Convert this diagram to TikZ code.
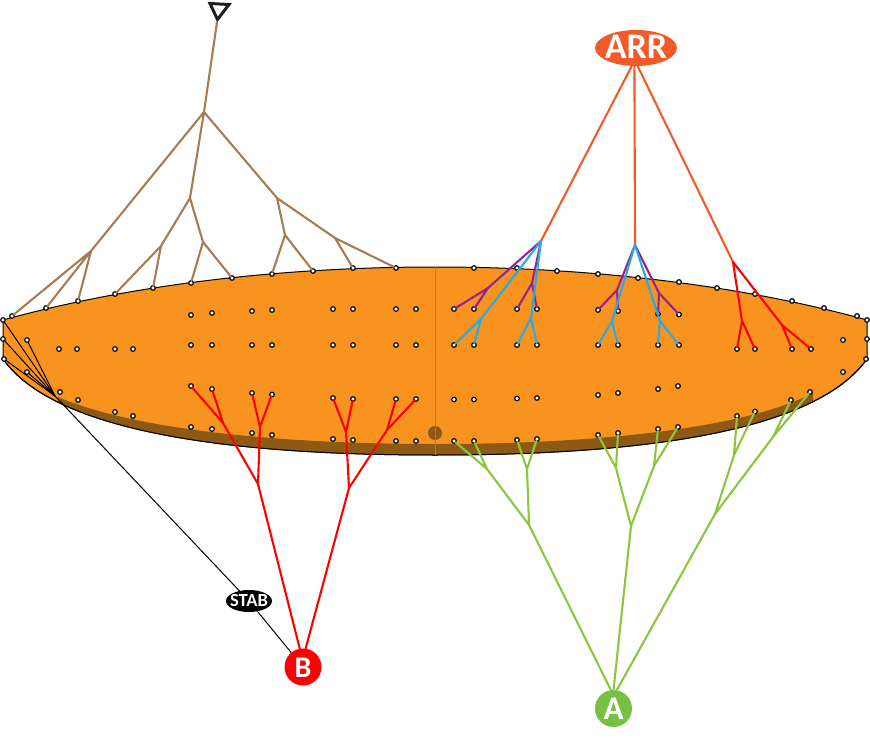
\documentclass[tikz,border=0pt]{standalone}
\usepackage{fontspec}
\setmainfont{Carlito}
\usetikzlibrary{shapes.geometric}
\definecolor{lensorange}{HTML}{F8931F}
\definecolor{rimbrown}{HTML}{8C5A14}
\definecolor{tan}{HTML}{A67C52}
\definecolor{leaf}{HTML}{8CC63F}
\definecolor{leafnode}{HTML}{76C043}
\definecolor{plum}{HTML}{93278F}
\definecolor{sky}{HTML}{29ABE2}
\definecolor{arrorange}{HTML}{F15A29}
\newcommand{\centred}[2]{\makebox[0pt]{\smash{\raisebox{#1}{#2}}}}
\tikzset{
  dot/.style={circle,draw=black,fill=white,line width=1.2pt,minimum size=4.6pt,inner sep=0pt,outer sep=0pt},
  branch/.style={line width=2.1pt,line cap=round,line join=round},
  tantree/.style={branch,color=tan},
  redtree/.style={branch,color=red},
  greentree/.style={branch,color=leaf},
  plumtree/.style={branch,color=plum},
  skytree/.style={branch,color=sky},
  arrline/.style={branch,color=arrorange},
  blackline/.style={line width=1pt,color=black},
  label/.style={text=white,inner sep=0pt,outer sep=0pt,font=\bfseries},
  hub/.style={label,circle,minimum size=37pt},
  oval/.style={label,ellipse,minimum width=#1}
}
\begin{document}
\begin{tikzpicture}[x=1pt,y=-1pt]
\useasboundingbox (0,0) rectangle (870,738);
% lens
\draw[fill=lensorange,line width=1pt]
  (3,320) .. controls (130,285) and (280,267) .. (435,267)
  .. controls (590,267) and (740,285) .. (867,320)
  -- (867,359)
  .. controls (820,425) and (670,455) .. (435,455)
  .. controls (200,455) and (50,425) .. (3,359) -- cycle;
\begin{scope}
  \clip (867,359) .. controls (820,425) and (670,455) .. (435,455)
  .. controls (200,455) and (50,425) .. (3,359) -- (3,300) -- (867,300) -- cycle;
  \fill[rimbrown] (58,397) .. controls (130,428) and (270,444) .. (435,444)
  .. controls (600,444) and (745,428) .. (813,393) -- (813,480) -- (58,480) -- cycle;
\end{scope}
\draw[line width=1pt]
  (867,359) .. controls (820,425) and (670,455) .. (435,455)
  .. controls (200,455) and (50,425) .. (3,359);
\node[circle,fill=rimbrown,minimum size=14pt,inner sep=0pt] (hole) at (435,433) {};
\coordinate (axistop) at (435,267);
\coordinate (axisbot) at (435,455);
\draw[color=arrorange,line width=1pt] (axistop) -- (axisbot);
% dots
\foreach \n/\x/\y in {
 t1/3/320,t2/12/316,t3/46/308,t4/78/301,t5/115/294,t6/153/288,t7/191/283,t8/232/278,t9/272/274,
 t10/313/271,t11/353/268,t12/396/268,t13/474/268,t14/517/268,t15/557/271,t16/598/274,t17/638/278,
 t18/679/282,t19/717/288,t20/755/294,t21/792/301,t22/824/308,t23/857/316,t24/867/320,
 l1/3/339,l2/4/359,l3/27/340,l4/27/372,r1/867/339,r2/866/359,r3/843/340,r4/843/372,
 e1/60/392,e2/78/400,e3/115/412,e4/133/416,e5/191/427,e6/212/429,e7/252/433,e8/272/435,
 e9/333/439,e10/353/440,e11/396/441,e12/416/441,
 g1/454/441,g2/474/441,g3/517/440,g4/537/439,g5/598/435,g6/618/433,g7/658/429,g8/678/427,
 g9/737/416,g10/755/411.5,g11/791/400,g12/810/392,
 m1/59/349,m2/77/349,m3/115/349,m4/133/349,
 a1/191/345,a2/212/345,a3/252/345,a4/272/345,a5/333/345,a6/353/345,a7/396/345,a8/416/345,
 b1/454/345,b2/474/345,b3/517/345,b4/537/345,b5/598/345,b6/618/345,b7/658/345,b8/679/345,
 c1/737/349,c2/755/349,c3/792/349,c4/811/349,
 u1/191/315,u2/212/313,u3/252/311,u4/272/310,u5/333/309,u6/353/309,u7/396/309,u8/416/309,
 p1/454/309,p2/474/309,p3/517/309,p4/537/309,p5/598/310,p6/618/311,p7/658/314,p8/679/314.5,
 d1/191/386,d2/212/389,d3/252/393,d4/272/394.5,d5/333/398,d6/353/399,d7/396/399,d8/416/399,
 n1/454/399.5,n2/474/399.5,n3/517/398.5,n4/537/398,n5/598/395,n6/618/393,n7/658/389,n8/678/386}
 {\node[dot] (\n) at (\x,\y) {};}
% hubs
\node[hub,fill=red] (B) at (303,667) {\centred{-10pt}{\fontsize{30}{30}\selectfont B}};
\node[hub,fill=leafnode] (A) at (613.5,708.5) {\centred{-10.5pt}{\fontsize{33}{33}\selectfont A}};
\node[oval=82pt,fill=arrorange,minimum height=36pt] (ARR) at (636,48) {\centred{-11pt}{\fontsize{36}{36}\selectfont ARR}};
\node[oval=46pt,fill=black,minimum height=22pt] (STAB) at (249,601) {\centred{-5pt}{\fontsize{18.5}{18.5}\selectfont STAB}};
% apex triangle
\coordinate (apex) at (217,22);
\draw[color=black!88,line width=3pt,line join=miter] (210,3.5) -- (229,4.5) -- (217.5,19.5) -- cycle;
% tan tree
\coordinate (k0) at (204,112);
\coordinate (k1) at (91,251);
\coordinate (k2) at (190,198);
\coordinate (k3) at (277,198);
\coordinate (k4) at (161,246);
\coordinate (k5) at (203,242);
\coordinate (k6) at (285,235);
\coordinate (k7) at (335,238);
\draw[tantree] (apex) -- (k0);
\draw[tantree] (k0) -- (k1) (k0) -- (k2) (k0) -- (k3);
\draw[tantree] (k1) -- (t2) (k1) -- (t3) (k1) -- (t4);
\draw[tantree] (k2) -- (k4) (k2) -- (k5) (k3) -- (k6) (k3) -- (k7);
\draw[tantree] (k4) -- (t5) (k4) -- (t6) (k5) -- (t7) (k5) -- (t8);
\draw[tantree] (k6) -- (t9) (k6) -- (t10) (k7) -- (t11) (k7) -- (t12);
% black fan
\coordinate (fan) at (55,396);
\foreach \s in {t1,l1,l2,l3,l4} \draw[blackline] (\s) -- (fan);
\draw[blackline] (fan) -- (STAB);
\draw[blackline] (STAB) -- (B);
% red tree B
\coordinate (q1) at (258,484);
\coordinate (q2) at (349,488);
\coordinate (q3) at (223,423);
\coordinate (q4) at (260,427);
\coordinate (q5) at (346,432);
\coordinate (q6) at (387,430);
\draw[redtree] (B.100) -- (q1) (B.82) -- (q2);
\draw[redtree] (q1) -- (q3) (q1) -- (q4) (q2) -- (q5) (q2) -- (q6);
\draw[redtree] (q3) -- (d1) (q3) -- (d2) (q4) -- (d3) (q4) -- (d4);
\draw[redtree] (q5) -- (d5) (q5) -- (d6) (q6) -- (d7) (q6) -- (d8);
% green tree A
\coordinate (h1) at (529,525);
\coordinate (h2) at (631,526);
\coordinate (h3) at (715,514);
\coordinate (h4) at (487,469);
\coordinate (h5) at (527,469);
\coordinate (h6) at (616,468);
\coordinate (h7) at (654,466);
\coordinate (h8) at (734,455);
\coordinate (h9) at (773,437);
\draw[greentree] (A.98) -- (h1) (A.90) -- (h2) (A.80) -- (h3);
\draw[greentree] (h1) -- (h4) (h1) -- (h5) (h2) -- (h6) (h2) -- (h7) (h3) -- (h8) (h3) -- (h9);
\draw[greentree] (h4) -- (g1) (h4) -- (g2) (h5) -- (g3) (h5) -- (g4);
\draw[greentree] (h6) -- (g5) (h6) -- (g6) (h7) -- (g7) (h7) -- (g8);
\draw[greentree] (h8) -- (g9) (h8) -- (g10) (h9) -- (g11) (h9) -- (g12);
% ARR tree
\coordinate (v1) at (541,241);
\coordinate (v2) at (635,245);
\coordinate (v3) at (733,262);
\draw[arrline] (ARR.-103) -- (v1) (ARR.-95) -- (v2) (ARR.-85) -- (v3);
\coordinate (w1) at (488,288);
\coordinate (w2) at (532,283);
\coordinate (w3) at (617,290);
\coordinate (w4) at (659,293);
\draw[plumtree] (v1) -- (w1) (v1) -- (w2) (v2) -- (w3) (v2) -- (w4);
\draw[plumtree] (w1) -- (p1) (w1) -- (p2) (w2) -- (p3) (w2) -- (p4);
\draw[plumtree] (w3) -- (p5) (w3) -- (p6) (w4) -- (p7) (w4) -- (p8);
\coordinate (s1) at (481,319);
\coordinate (s2) at (531,318);
\coordinate (s3) at (612,321);
\coordinate (s4) at (660,321);
\draw[skytree] (v1) -- (s1) (v1) -- (s2) (v2) -- (s3) (v2) -- (s4);
\draw[skytree] (s1) -- (b1) (s1) -- (b2) (s2) -- (b3) (s2) -- (b4);
\draw[skytree] (s3) -- (b5) (s3) -- (b6) (s4) -- (b7) (s4) -- (b8);
\coordinate (x1) at (742,321);
\coordinate (x2) at (782,325);
\draw[redtree] (v3) -- (x1) (v3) -- (x2);
\draw[redtree] (x1) -- (c1) (x1) -- (c2) (x2) -- (c3) (x2) -- (c4);
\end{tikzpicture}
\end{document}
